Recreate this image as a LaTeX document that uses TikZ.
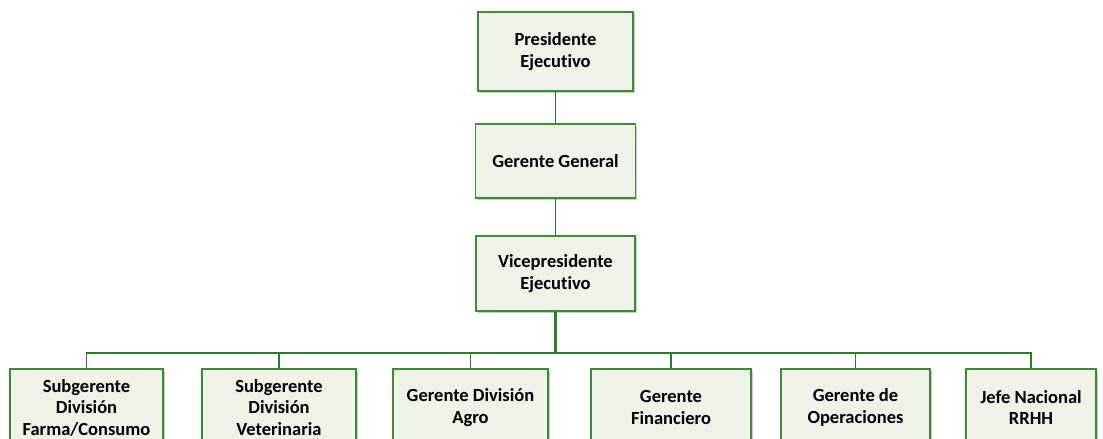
\documentclass[tikz,border=0pt]{standalone}
\usepackage{fontspec}
\setmainfont{Carlito}[Ligatures=NoCommon]
\usetikzlibrary{shadows}
\definecolor{boxfill}{RGB}{239,242,230}
\definecolor{boxline}{RGB}{60,140,55}
\definecolor{conn}{RGB}{45,125,40}
\tikzset{
  orgbox/.style={draw=boxline, line width=1.2pt, fill=boxfill, align=center,
    font=\fontsize{18.5}{21.5}\selectfont\bfseries, inner sep=2pt,
    drop shadow={shadow xshift=1.6pt, shadow yshift=-1.6pt, fill=black!35, opacity=0.6}},
  link/.style={draw=conn, line width=1.4pt},
  trunk/.style={draw=conn, line width=2.2pt}
}
\begin{document}
\begin{tikzpicture}[x=1pt,y=-1pt]
\useasboundingbox (0,0) rectangle (1103,439);
\clip (0,0) rectangle (1103,439);
\node[orgbox, minimum width=155pt, minimum height=79pt] (pe) at (555.5,51.5) {Presidente\\Ejecutivo};
\node[orgbox, minimum width=160pt, minimum height=74pt] (gg) at (555.5,161) {Gerente General};
\node[orgbox, minimum width=159pt, minimum height=75pt] (vp) at (555.5,273.5) {Vicepresidente\\Ejecutivo};
\node[orgbox, minimum width=153pt, minimum height=77pt] (b1) at (86.5,407.5) {Subgerente\\División\\Farma/Consumo};
\node[orgbox, minimum width=154pt, minimum height=77pt] (b2) at (279,407.5) {Subgerente\\División\\Veterinaria};
\node[orgbox, minimum width=155pt, minimum height=77pt] (b3) at (470.5,407.5) {Gerente División\\Agro};
\node[orgbox, minimum width=160pt, minimum height=77pt] (b4) at (671,407.5) {Gerente\\Financiero};
\node[orgbox, minimum width=149pt, minimum height=77pt] (b5) at (855.5,407.5) {Gerente de\\Operaciones};
\node[orgbox, minimum width=130pt, minimum height=77pt] (b6) at (1031,407.5) {Jefe Nacional\\RRHH};
\coordinate (bus) at (555.5,353);
\draw[link] (pe.south) -- (gg.north);
\draw[link] (gg.south) -- (vp.north);
\draw[trunk] (vp.south) -- (bus);
\foreach \b in {b1,b2,b3,b4,b5,b6} {
  \draw[link] (\b.north) |- (bus);
}
\end{tikzpicture}
\end{document}
